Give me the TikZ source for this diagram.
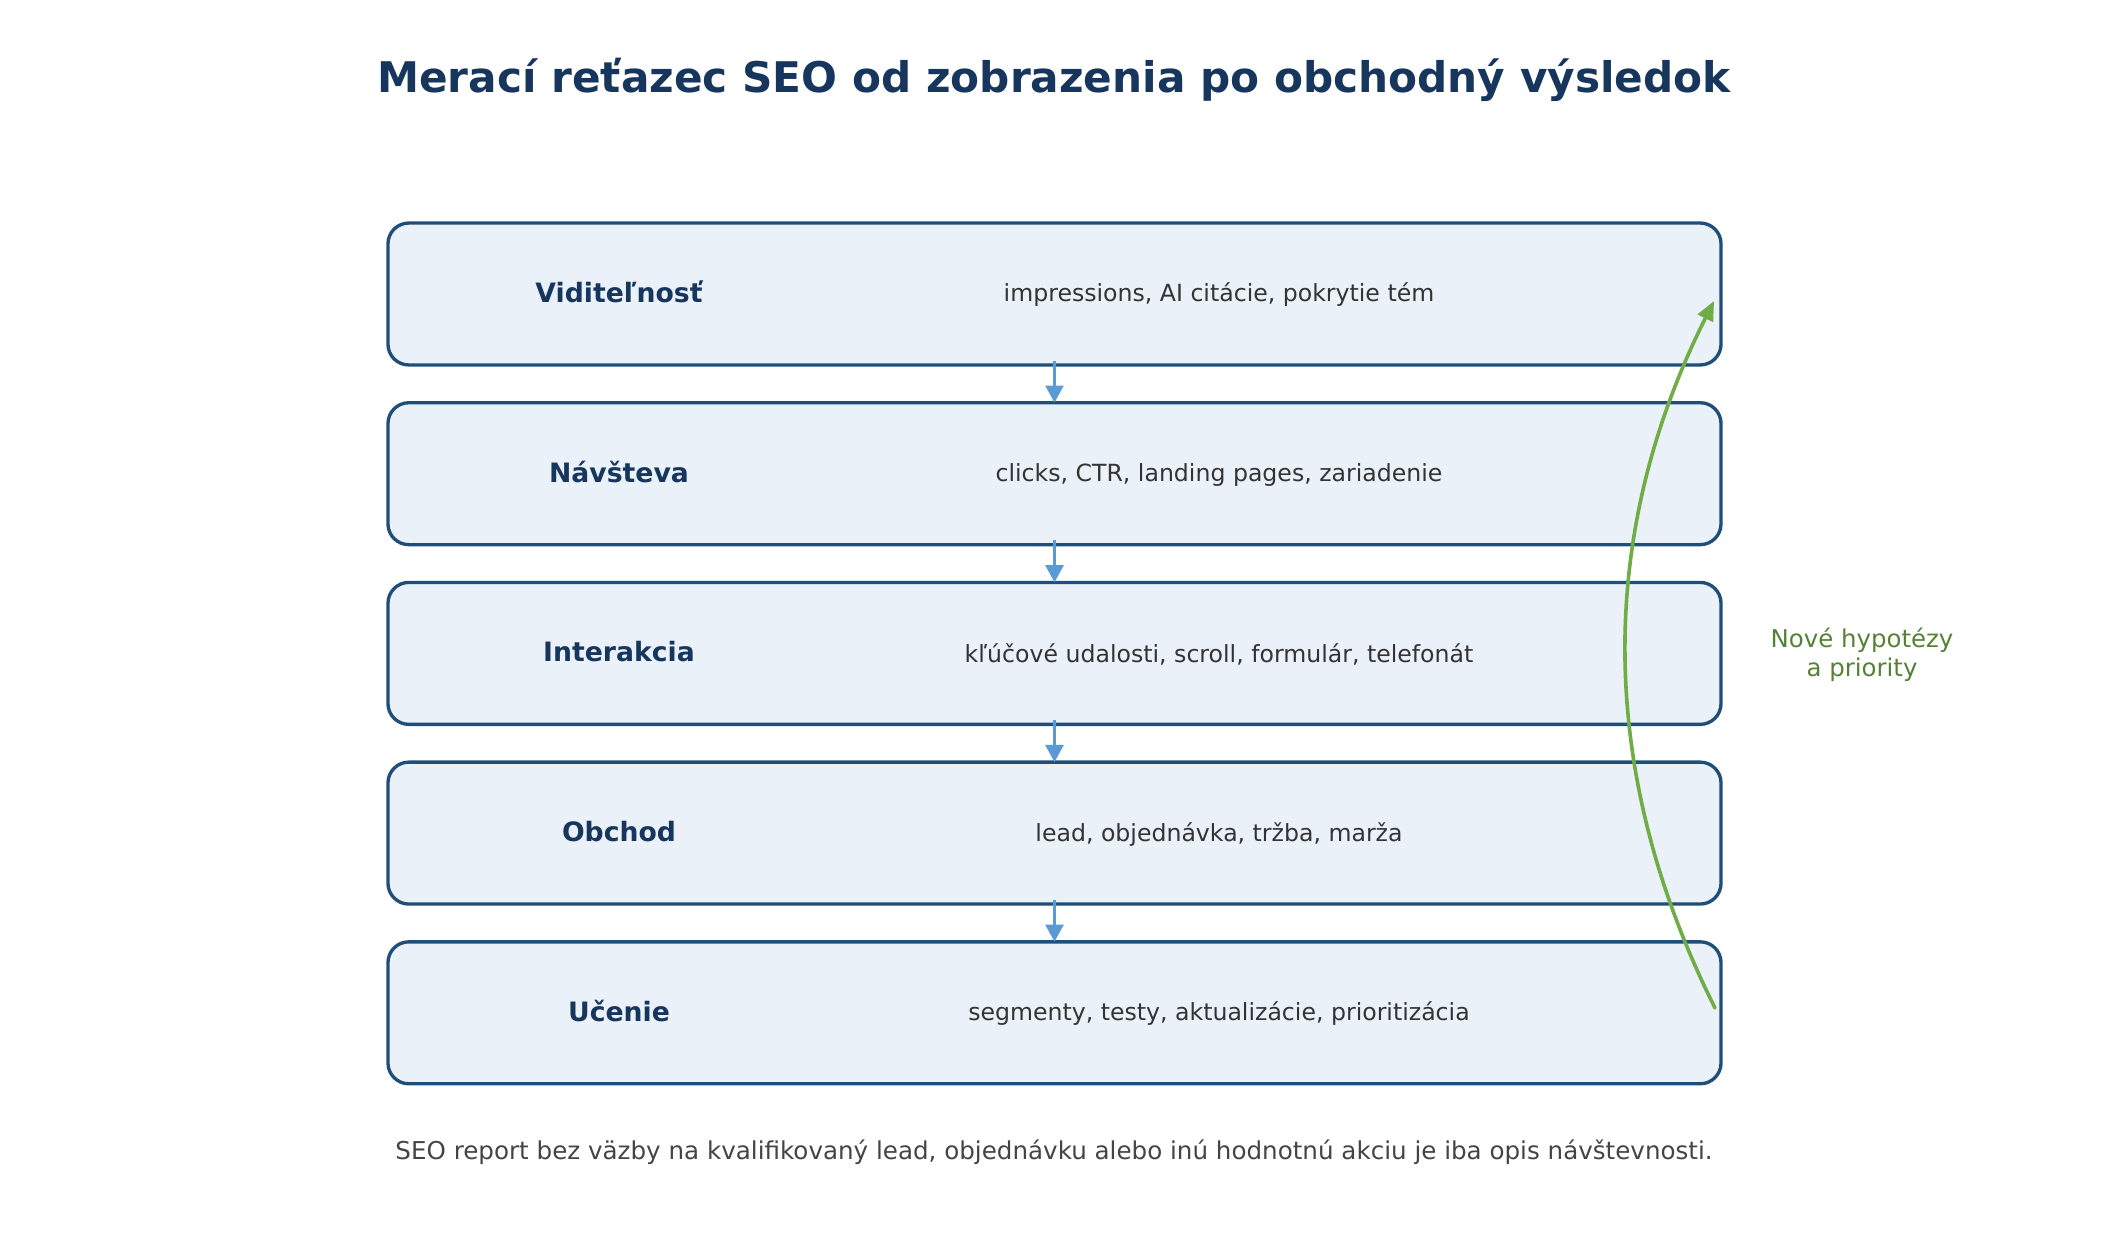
\documentclass[tikz,border=0pt]{standalone}
\usepackage{fontspec}
\setmainfont{DejaVu Sans}
\usepackage{tikz}
\usetikzlibrary{positioning}
\usetikzlibrary{arrows.meta}

\definecolor{titleblue}{HTML}{17365D}
\definecolor{boxline}{HTML}{1F4E79}
\definecolor{boxfill}{HTML}{EAF1F8}
\definecolor{descgray}{HTML}{333333}
\definecolor{footgray}{HTML}{444444}
\definecolor{flowblue}{HTML}{5B9BD5}
\definecolor{loopgreen}{HTML}{70AD47}
\definecolor{loopdark}{HTML}{548235}

\tikzset{
	stage/.style={draw=boxline, fill=boxfill, line width=1.2pt, rounded corners=7.5pt,
		minimum width=479.9pt, minimum height=51.1pt, inner sep=0pt, outer sep=0pt},
	stagename/.style={font=\fontsize{9.6}{11.5}\selectfont\bfseries, text=titleblue},
	stagedesc/.style={font=\fontsize{8.5}{10.5}\selectfont, text=descgray},
	flowarrow/.style={draw=flowblue, line width=1.2pt, -{Triangle[length=6.2pt,width=6.4pt]}},
	looparrow/.style={draw=loopgreen, line width=1.3pt, line cap=round, -{Triangle[length=7pt,width=6pt]}}
}

\begin{document}
\begin{tikzpicture}[x=0.36pt,y=-0.36pt]
		\useasboundingbox (0,0) rectangle (2108,1235);
		\node[font=\fontsize{15.2}{18}\selectfont\bfseries, text=titleblue] (title) at (1054,80) {Merací reťazec SEO od zobrazenia po obchodný výsledok};
		\node[stage] (b1) at (1054.5,294) {}; %viditelnost%
		\node[stage] (b2) at (1054.5,473.7) {}; %navsteva%
		\node[stage] (b3) at (1054.5,653.4) {}; %interakcia%
		\node[stage] (b4) at (1054.5,833.1) {}; %obchod%
		\node[stage] (b5) at (1054.5,1012.8) {}; %ucenie%
		\node[stagename] (n1) at (619,292) {Viditeľnosť};
		\node[stagename] (n2) at (619,471.7) {Návšteva};
		\node[stagename] (n3) at (619,651.4) {Interakcia};
		\node[stagename] (n4) at (619,831.1) {Obchod};
		\node[stagename] (n5) at (619,1010.8) {Učenie};
		\node[stagedesc] (d1) at (1219,295) {impressions, AI citácie, pokrytie tém};
		\node[stagedesc] (d2) at (1219,474.7) {clicks, CTR, landing pages, zariadenie};
		\node[stagedesc] (d3) at (1219,654.4) {kľúčové udalosti, scroll, formulár, telefonát};
		\node[stagedesc] (d4) at (1219,834.1) {lead, objednávka, tržba, marža};
		\node[stagedesc] (d5) at (1219,1013.8) {segmenty, testy, aktualizácie, prioritizácia};
		\draw[flowarrow] ([yshift=1.6pt]b1.south) -- (b2.north);
		\draw[flowarrow] ([yshift=1.6pt]b2.south) -- (b3.north);
		\draw[flowarrow] ([yshift=1.6pt]b3.south) -- (b4.north);
		\draw[flowarrow] ([yshift=1.6pt]b4.south) -- (b5.north);
		\coordinate (loopstart) at (1715,1008);
		\coordinate (loopend) at (1714,301);
		\draw[looparrow] (loopstart) .. controls (1597,772) and (1596,536) .. (loopend);
		\node[font=\fontsize{8.8}{10.5}\selectfont, text=loopdark, align=center] (loopnote) at (1862,655) {Nové hypotézy\\a priority};
		\node[font=\fontsize{8.85}{11}\selectfont, text=footgray] (footer) at (1054,1152) {SEO report bez väzby na kvalifikovaný lead, objednávku alebo inú hodnotnú akciu je iba opis návštevnosti.};
	\end{tikzpicture}
\end{document}
